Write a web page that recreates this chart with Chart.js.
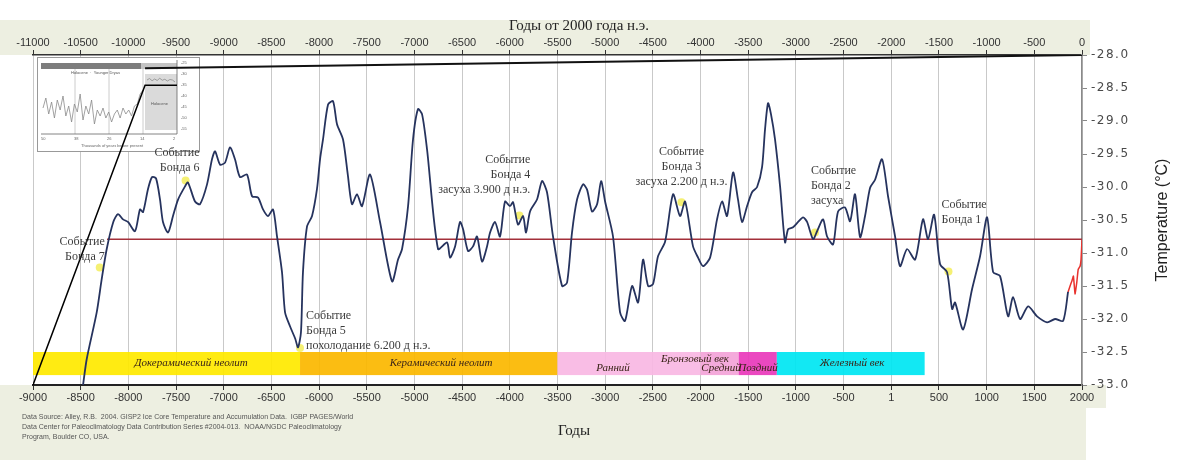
<!DOCTYPE html>
<html>
<head>
<meta charset="utf-8">
<script src="https://cdn.jsdelivr.net/npm/chart.js@4"></script>
<style>
  body { margin: 0; background: #fff; }
  canvas { display: block; }
</style>
</head>
<body>
<canvas id="gisp2" width="1200" height="460"></canvas>
<script>
// GISP2 temperature, years AD (negative = BC)
var years = [
  -8475,-8437,-8332,-8280,-8227,-8158,-8109,-8056,-8004,-7930,
  -7878,-7846,-7794,-7752,-7710,-7668,-7637,-7584,-7532,-7479,
  -7406,-7375,-7301,-7249,-7175,-7123,-7091,-7039,-6986,-6934,
  -6882,-6829,-6756,-6703,-6640,-6588,-6536,-6483,-6441,-6389,
  -6357,-6305,-6250,-6221,-6190,-6169,-6127,-6074,-6022,-5990,
  -5959,-5906,-5854,-5812,-5749,-5700,-5655,-5602,-5550,-5466,
  -5361,-5235,-5172,-5130,-5067,-5015,-4963,-4920,-4868,-4753,
  -4658,-4627,-4574,-4522,-4490,-4438,-4386,-4344,-4291,-4239,
  -4207,-4155,-4103,-4050,-3998,-3966,-3914,-3861,-3830,-3788,
  -3715,-3662,-3610,-3547,-3452,-3400,-3348,-3295,-3232,-3190,
  -3138,-3085,-3043,-3001,-2918,-2844,-2792,-2718,-2655,-2603,
  -2550,-2498,-2446,-2372,-2288,-2215,-2162,-2079,-2026,-1974,
  -1900,-1827,-1774,-1722,-1659,-1607,-1565,-1512,-1460,-1407,
  -1355,-1324,-1292,-1261,-1219,-1166,-1114,-1082,-1030,-977,
  -925,-883,-820,-778,-715,-673,-610,-558,-485,-432,
  -380,-327,-275,-222,-170,-97,-34,40,92,166,
  250,333,386,449,512,585,638,669,753,847,
  931,1005,1068,1141,1225,1277,1351,1435,1529,1634,
  1718,1802,1854
];
var temps = [
  -33.00,-32.61,-31.90,-31.40,-30.94,-30.53,-30.41,-30.49,-30.53,-30.67,
  -30.34,-30.38,-30.03,-29.85,-29.87,-30.19,-30.53,-30.69,-30.44,-30.19,
  -29.99,-29.93,-30.22,-30.26,-29.96,-29.58,-29.46,-29.66,-29.63,-29.40,
  -29.58,-29.85,-29.81,-30.14,-30.16,-30.34,-30.44,-30.34,-30.75,-31.29,
  -31.90,-32.11,-32.30,-32.43,-32.20,-31.29,-30.60,-30.44,-30.03,-29.58,
  -29.28,-28.75,-28.70,-29.05,-29.28,-29.80,-30.26,-30.11,-30.29,-29.81,
  -30.53,-31.43,-31.10,-30.94,-30.29,-29.28,-28.82,-28.90,-29.43,-30.94,
  -30.84,-31.07,-30.90,-30.53,-30.64,-30.97,-30.90,-30.75,-31.13,-30.90,
  -30.69,-30.53,-30.75,-30.22,-30.29,-30.23,-30.57,-30.44,-30.69,-30.37,
  -30.19,-29.91,-30.08,-30.75,-31.50,-31.45,-30.69,-30.19,-29.96,-30.04,
  -30.37,-30.26,-29.91,-30.22,-30.75,-31.90,-32.03,-31.50,-31.75,-31.10,
  -31.50,-31.47,-31.05,-30.83,-30.11,-30.44,-30.22,-30.90,-31.07,-31.20,
  -31.07,-30.49,-30.22,-30.44,-29.78,-30.19,-30.53,-30.29,-30.08,-30.00,
  -29.70,-29.13,-28.73,-28.90,-29.28,-29.99,-30.84,-30.64,-30.61,-30.53,
  -30.46,-30.53,-30.79,-30.67,-30.49,-30.75,-30.87,-30.37,-30.31,-30.52,
  -30.11,-30.76,-30.44,-30.01,-29.89,-29.58,-30.14,-30.75,-31.20,-30.94,
  -31.10,-30.49,-30.79,-30.42,-31.17,-31.29,-31.85,-31.75,-32.16,-31.55,
  -31.05,-30.46,-31.29,-31.35,-31.96,-31.67,-32.00,-31.81,-31.96,-32.05,
  -32.00,-32.03,-31.59
];
// modern part (red)
var recentYears = [1854,1875,1895,1910,1927,1945,1960,1980,1990,2000];
var recentTemps = [-31.59,-31.50,-31.42,-31.35,-31.62,-31.45,-31.25,-31.20,-31.10,-30.80];

// mean level line
var meanYears = [-8224, 2000];
var meanTemps = [-30.79, -30.79];

// zoom connector lines from inset
var connAYears = [-9000, -7825, -7490];
var connATemps = [-33.0, -28.46, -28.46];
var connBYears = [-7825, 2000];
var connBTemps = [-28.20, -28.0];

// Bond events
var bondYears = [-8300, -7400, -6200, -3900, -2200, -800, 600];
var bondTemps = [-31.22, -29.90, -32.44, -30.43, -30.23, -30.69, -31.28];
var bondLabels = [
  ['Событие', 'Бонда 7'],
  ['Событие', 'Бонда 6'],
  ['Событие', 'Бонда 5', 'похолодание 6.200 д н.э.'],
  ['Событие', 'Бонда 4', 'засуха 3.900 д н.э.'],
  ['Событие', 'Бонда 3', 'засуха 2.200 д н.э.'],
  ['Событие', 'Бонда 2', 'засуха'],
  ['Событие', 'Бонда 1']
];
// label placement relative to the dot: [dx, dy of first line, align]
var bondLabelPlace = [
  [5, -26, 'right'], [14, -28, 'right'], [6, -32, 'left'], [11, -56, 'right'],
  [0, -50, 'center'], [-4, -62, 'left'], [-7, -67, 'left']
];

// cultural periods
var periodStart = [-9000, -6200, -3500, -2000, -1600, -1200];
var periodEnd   = [-6200, -3500, -2000, -1600, -1200, 350];
var periodColor = ['#FFEA00', '#FBB800', '#F9B8E3', '#F3A4D8', '#EA3ABB', '#00E6F2'];
var periodText  = ['Докерамический неолит', 'Керамический неолит', 'Ранний', 'Бронзовый век', 'Средний', 'Поздний', 'Железный век'];
var periodTextYear = [-7343, -4721, -2918, -2058, -1785, -1397, -411];
var periodTextRow  = ['mid', 'mid', 'low', 'high', 'low', 'low', 'mid'];

// inset (full GISP2 record thumbnail), 0 = warm/top
var insetOld = [0.55,0.3,0.7,0.4,0.8,0.35,0.6,0.25,0.75,0.5,0.9,0.45,0.65,0.2,0.85,0.5,0.7,0.35,
  0.95,0.6,0.75,0.55,0.8,0.65,0.9,0.7,0.6,0.8,0.55,0.7,0.6,0.75,0.5,0.45,0.2,0.1];
var insetHolo = [0.12,0.06,0.15,0.08,0.14,0.05,0.13,0.09,0.16,0.1,0.12,0.2];

var topTitle = 'Годы от 2000 года н.э.';
var bottomTitle = 'Годы';
var yTitle = 'Temperature (°C)';
var sourceLines = [
  'Data Source: Alley, R.B.  2004. GISP2 Ice Core Temperature and Accumulation Data.  IGBP PAGES/World',
  'Data Center for Paleoclimatology Data Contribution Series #2004-013.  NOAA/NGDC Paleoclimatology',
  'Program, Boulder CO, USA.'
];

function pts(xs, ys) {
  return xs.map(function(x, i) { return { x: x, y: ys[i] }; });
}

var background = {
  id: 'background',
  beforeDraw: function(chart) {
    var ctx = chart.ctx;
    ctx.save();
    ctx.fillStyle = '#fff';
    ctx.fillRect(0, 0, chart.width, chart.height);
    ctx.fillStyle = '#EDEFE1';
    ctx.fillRect(0, 20, 1090, 35);
    ctx.fillRect(0, 385, 1086, 75);
    ctx.fillRect(1086, 385, 20, 23);
    ctx.restore();
  }
};

function drawInset(ctx, ca) {
  var x0 = ca.left + 4, y0 = ca.top + 2, w = 162, h = 94;
  ctx.save();
  ctx.fillStyle = '#fff';
  ctx.fillRect(x0, y0, w, h);
  ctx.strokeStyle = '#999';
  ctx.lineWidth = 1;
  ctx.strokeRect(x0 + 0.5, y0 + 0.5, w, h);
  var px = x0 + 4, py = y0 + 3, pw = 136, ph = 74;
  // grid
  ctx.strokeStyle = '#ccc';
  [0.25, 0.5, 0.75].forEach(function(f) {
    ctx.beginPath(); ctx.moveTo(px + pw * f, py + 8); ctx.lineTo(px + pw * f, py + ph); ctx.stroke();
  });
  ctx.fillStyle = '#7d7d7d';
  ctx.fillRect(px, py + 3, 100, 6);
  ctx.fillStyle = '#c4c4c4';
  ctx.fillRect(px + 100, py + 3, 36, 6);
  ctx.fillStyle = '#dadada';
  ctx.fillRect(px + 104, py + 14, 32, 56);
  ctx.fillStyle = '#555';
  ctx.font = '4px "Liberation Sans"';
  ctx.fillText('Holocene  ·  Younger Dryas', px + 30, py + 14);
  ctx.fillText('Holocene', px + 110, py + 45);
  // jagged series
  ctx.strokeStyle = '#8a8a8a';
  ctx.lineWidth = 0.8;
  ctx.beginPath();
  insetOld.forEach(function(v, i) {
    var x = px + 2 + i * (100 / (insetOld.length - 1));
    var y = py + 26 + v * 40;
    if (i === 0) ctx.moveTo(x, y); else ctx.lineTo(x, y);
  });
  ctx.stroke();
  ctx.beginPath();
  insetHolo.forEach(function(v, i) {
    var x = px + 106 + i * (28 / (insetHolo.length - 1));
    var y = py + 17 + v * 25;
    if (i === 0) ctx.moveTo(x, y); else ctx.lineTo(x, y);
  });
  ctx.stroke();
  // axes
  ctx.strokeStyle = '#666';
  ctx.beginPath(); ctx.moveTo(px, py + ph); ctx.lineTo(px + pw, py + ph); ctx.lineTo(px + pw, py); ctx.stroke();
  ctx.fillStyle = '#666';
  for (var i = 0; i < 7; i++) ctx.fillText('-' + (25 + i * 5), px + pw + 4, py + 4 + i * 11);
  for (var j = 0; j < 5; j++) ctx.fillText(String(50 - j * 12), px + j * 33, py + ph + 6);
  ctx.fillText('Thousands of years before present', px + 40, py + ph + 13);
  ctx.restore();
}

var decorations = {
  id: 'decorations',
  beforeDatasetsDraw: function(chart) {
    var ctx = chart.ctx, xs = chart.scales.x, ys = chart.scales.y, ca = chart.chartArea;
    drawInset(ctx, ca);
    var top = ys.getPixelForValue(-32.5), bot = ys.getPixelForValue(-32.85);
    ctx.save();
    ctx.globalAlpha = 0.93;
    periodStart.forEach(function(s, i) {
      var a = xs.getPixelForValue(s), b = xs.getPixelForValue(periodEnd[i]);
      ctx.fillStyle = periodColor[i];
      ctx.fillRect(a, top, b - a, bot - top);
    });
    ctx.globalAlpha = 1;
    ctx.font = 'italic 11px "Liberation Serif"';
    ctx.textAlign = 'center';
    ctx.textBaseline = 'middle';
    ctx.fillStyle = '#3a2418';
    var h = bot - top;
    periodText.forEach(function(t, i) {
      var row = periodTextRow[i];
      var y = row === 'high' ? top + h * 0.3 : row === 'low' ? top + h * 0.68 : top + h * 0.5;
      ctx.fillText(t, xs.getPixelForValue(periodTextYear[i]), y);
    });
    ctx.restore();
  },
  afterDatasetsDraw: function(chart) {
    var ctx = chart.ctx, xs = chart.scales.x, ys = chart.scales.y;
    ctx.save();
    ctx.font = '12px "Liberation Serif"';
    ctx.fillStyle = '#3c3c3c';
    ctx.textBaseline = 'middle';
    bondYears.forEach(function(yr, i) {
      var px = xs.getPixelForValue(yr), py = ys.getPixelForValue(bondTemps[i]);
      var p = bondLabelPlace[i];
      ctx.textAlign = p[2];
      bondLabels[i].forEach(function(line, k) {
        ctx.fillText(line, px + p[0], py + p[1] + k * 15);
      });
    });
    ctx.restore();
  },
  afterDraw: function(chart) {
    var ctx = chart.ctx, ys = chart.scales.y;
    ctx.save();
    // right axis labels
    ctx.font = '12px "DejaVu Sans"';
    ctx.fillStyle = '#4a4a4a';
    ctx.textBaseline = 'middle';
    ctx.textAlign = 'left';
    ctx.letterSpacing = '1.5px';
    ys.ticks.forEach(function(t) {
      ctx.fillText(t.value.toFixed(1), ys.left + 9, ys.getPixelForValue(t.value));
    });
    ctx.letterSpacing = '0px';
    // axis title
    ctx.save();
    ctx.translate(1163, (chart.chartArea.top + chart.chartArea.bottom) / 2 + 0);
    ctx.rotate(-Math.PI / 2);
    ctx.textAlign = 'center';
    ctx.font = '16px "Liberation Sans Narrow", "Liberation Sans"';
    ctx.fillStyle = '#222';
    ctx.fillText(yTitle, 0, 0);
    ctx.restore();
    // titles
    ctx.font = '15px "Liberation Serif"';
    ctx.fillStyle = '#222';
    ctx.textAlign = 'center';
    ctx.fillText(topTitle, 579, 26);
    ctx.fillText(bottomTitle, 574, 431);
    // source note
    ctx.font = '7px "Liberation Sans"';
    ctx.fillStyle = '#555';
    ctx.textAlign = 'left';
    sourceLines.forEach(function(l, i) { ctx.fillText(l, 22, 417 + i * 10); });
    ctx.restore();
  }
};

new Chart(document.getElementById('gisp2'), {
  type: 'line',
  data: {
    datasets: [{
      data: pts(years, temps),
      borderColor: '#26335E',
      borderWidth: 1.8,
      tension: 0.25,
      pointRadius: 0
    }, {
      data: pts(recentYears, recentTemps),
      borderColor: '#E8322E',
      borderWidth: 1.5,
      tension: 0.1,
      pointRadius: 0
    }, {
      data: pts(meanYears, meanTemps),
      borderColor: '#A3303A',
      borderWidth: 1.5,
      pointRadius: 0
    }, {
      data: pts(connAYears, connATemps),
      borderColor: '#000',
      borderWidth: 1.5,
      pointRadius: 0
    }, {
      data: pts(connBYears, connBTemps),
      borderColor: '#111',
      borderWidth: 2,
      pointRadius: 0
    }, {
      data: pts(bondYears, bondTemps),
      showLine: false,
      pointRadius: 4,
      pointBackgroundColor: 'rgba(244, 238, 100, 0.9)',
      pointBorderWidth: 0
    }]
  },
  options: {
    responsive: false,
    animation: false,
    devicePixelRatio: 1,
    layout: { padding: { left: 33, right: 0, top: 0, bottom: 0 } },
    plugins: { legend: { display: false }, tooltip: { enabled: false } },
    scales: {
      x: {
        type: 'linear',
        position: 'bottom',
        min: -9000, max: 2000,
        afterFit: function(s) { s.height = 75; },
        ticks: {
          stepSize: 500, autoSkip: false, maxRotation: 0, padding: 1,
          color: '#333', font: { family: 'Liberation Sans', size: 11 },
          callback: function(v) { return v === 0 ? '1' : String(v); }
        },
        grid: { color: '#c9c9c9', lineWidth: 1, tickLength: 5, tickColor: '#333' },
        border: { color: '#222', width: 2 }
      },
      x2: {
        type: 'linear',
        position: 'top',
        min: -11000, max: 0,
        afterFit: function(s) { s.height = 55; },
        ticks: {
          stepSize: 500, autoSkip: false, maxRotation: 0, padding: 0,
          color: '#333', font: { family: 'Liberation Sans', size: 11 },
          callback: function(v) { return String(v); }
        },
        grid: { drawOnChartArea: false, tickLength: 5, tickColor: '#333' },
        border: { color: '#333', width: 1.5 }
      },
      y: {
        type: 'linear',
        position: 'right',
        min: -33, max: -28,
        afterFit: function(s) { s.width = 118; },
        ticks: { stepSize: 0.5, display: false },
        grid: { drawOnChartArea: false, tickLength: 5, tickColor: '#888' },
        border: { color: '#8a8a8a', width: 1.5 }
      }
    }
  },
  plugins: [background, decorations]
});
</script>
</body>
</html>
